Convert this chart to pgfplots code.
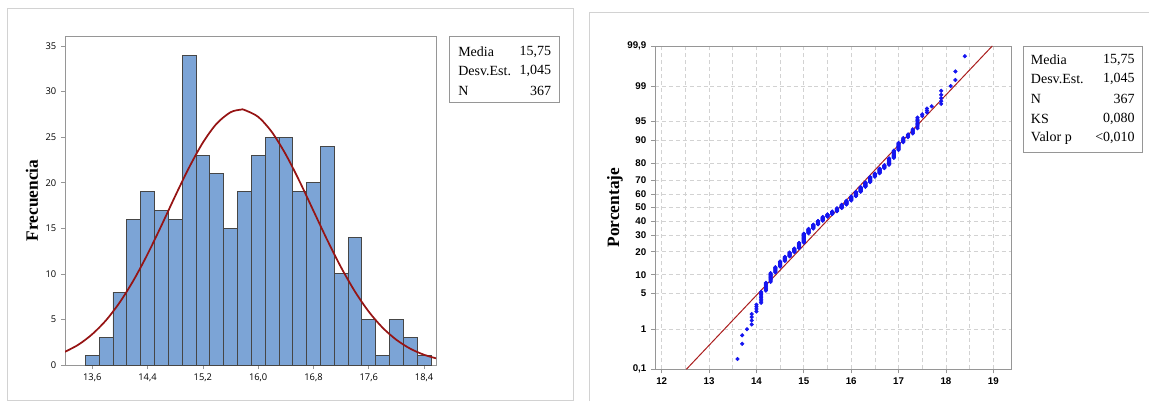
\documentclass[border=0pt]{standalone}
\usepackage{pgfplots}
\pgfplotsset{compat=1.18}
\usepackage{pgfplotstable}
\usepackage{fontspec}
\setmainfont{Liberation Serif}
\newfontfamily\ticksans{Open Sans}
\newfontfamily\tickbold{Liberation Sans}

\definecolor{barblue}{RGB}{124,164,214}
\definecolor{barline}{RGB}{70,70,70}
\definecolor{fitred}{RGB}{150,20,20}
\definecolor{linered}{RGB}{170,30,30}
\definecolor{framegray}{RGB}{210,210,210}
\definecolor{axisgray}{RGB}{150,150,150}
\definecolor{gridgray}{RGB}{210,210,210}
\definecolor{dotblue}{RGB}{20,20,240}

% histogram: bin midpoints (width 0.2) and frequencies
\pgfplotstableread{
mid count
13.6 1
13.8 3
14.0 8
14.2 16
14.4 19
14.6 17
14.8 16
15.0 34
15.2 23
15.4 21
15.6 15
15.8 19
16.0 23
16.2 25
16.4 25
16.6 19
16.8 20
17.0 24
17.2 10
17.4 14
17.6 5
17.8 1
18.0 5
18.2 3
18.4 1
}\histdata

% fitted normal curve (mean 15.75, sd 1.045, N 367, bin 0.2)
\pgfplotstableread{
x f
13.2 1.43
13.4 2.23
13.6 3.38
13.8 4.91
14.0 6.90
14.2 9.33
14.4 12.16
14.6 15.29
14.8 18.54
15.0 21.66
15.2 24.40
15.4 26.49
15.6 27.73
15.75 28.02
15.8 27.99
16.0 27.23
16.2 25.54
16.4 23.09
16.6 20.13
16.8 16.91
17.0 13.70
17.2 10.70
17.4 8.06
17.6 5.85
17.8 4.09
18.0 2.76
18.2 1.79
18.4 1.12
18.6 0.68
}\normfit

% sorted sample (n = 367)
\pgfplotstableread[row sep=\\]{
x\\
13.6\\
13.7\\ 13.7\\
13.8\\
13.9\\ 13.9\\ 13.9\\ 13.9\\
14.0\\ 14.0\\ 14.0\\ 14.0\\
14.1\\ 14.1\\ 14.1\\ 14.1\\ 14.1\\ 14.1\\ 14.1\\ 14.1\\
14.2\\ 14.2\\ 14.2\\ 14.2\\ 14.2\\ 14.2\\ 14.2\\ 14.2\\
14.3\\ 14.3\\ 14.3\\ 14.3\\ 14.3\\ 14.3\\ 14.3\\ 14.3\\ 14.3\\ 14.3\\ 14.3\\
14.4\\ 14.4\\ 14.4\\ 14.4\\ 14.4\\ 14.4\\ 14.4\\ 14.4\\
14.5\\ 14.5\\ 14.5\\ 14.5\\ 14.5\\ 14.5\\ 14.5\\ 14.5\\ 14.5\\
14.6\\ 14.6\\ 14.6\\ 14.6\\ 14.6\\ 14.6\\ 14.6\\ 14.6\\
14.7\\ 14.7\\ 14.7\\ 14.7\\ 14.7\\ 14.7\\ 14.7\\ 14.7\\
14.8\\ 14.8\\ 14.8\\ 14.8\\ 14.8\\ 14.8\\ 14.8\\ 14.8\\
14.9\\ 14.9\\ 14.9\\ 14.9\\ 14.9\\ 14.9\\ 14.9\\ 14.9\\ 14.9\\ 14.9\\ 14.9\\ 14.9\\
15.0\\ 15.0\\ 15.0\\ 15.0\\ 15.0\\ 15.0\\ 15.0\\ 15.0\\ 15.0\\ 15.0\\ 15.0\\
15.0\\ 15.0\\ 15.0\\ 15.0\\ 15.0\\ 15.0\\ 15.0\\ 15.0\\ 15.0\\ 15.0\\ 15.0\\
15.1\\ 15.1\\ 15.1\\ 15.1\\ 15.1\\ 15.1\\ 15.1\\ 15.1\\ 15.1\\ 15.1\\ 15.1\\ 15.1\\
15.2\\ 15.2\\ 15.2\\ 15.2\\ 15.2\\ 15.2\\ 15.2\\ 15.2\\ 15.2\\ 15.2\\ 15.2\\
15.3\\ 15.3\\ 15.3\\ 15.3\\ 15.3\\ 15.3\\ 15.3\\ 15.3\\ 15.3\\ 15.3\\
15.4\\ 15.4\\ 15.4\\ 15.4\\ 15.4\\ 15.4\\ 15.4\\ 15.4\\ 15.4\\ 15.4\\ 15.4\\
15.5\\ 15.5\\ 15.5\\ 15.5\\ 15.5\\ 15.5\\ 15.5\\
15.6\\ 15.6\\ 15.6\\ 15.6\\ 15.6\\ 15.6\\ 15.6\\ 15.6\\
15.7\\ 15.7\\ 15.7\\ 15.7\\ 15.7\\ 15.7\\ 15.7\\ 15.7\\ 15.7\\
15.8\\ 15.8\\ 15.8\\ 15.8\\ 15.8\\ 15.8\\ 15.8\\ 15.8\\ 15.8\\ 15.8\\
15.9\\ 15.9\\ 15.9\\ 15.9\\ 15.9\\ 15.9\\ 15.9\\ 15.9\\ 15.9\\ 15.9\\ 15.9\\
16.0\\ 16.0\\ 16.0\\ 16.0\\ 16.0\\ 16.0\\ 16.0\\ 16.0\\ 16.0\\ 16.0\\ 16.0\\ 16.0\\
16.1\\ 16.1\\ 16.1\\ 16.1\\ 16.1\\ 16.1\\ 16.1\\ 16.1\\ 16.1\\ 16.1\\ 16.1\\ 16.1\\
16.2\\ 16.2\\ 16.2\\ 16.2\\ 16.2\\ 16.2\\ 16.2\\ 16.2\\ 16.2\\ 16.2\\ 16.2\\ 16.2\\ 16.2\\
16.3\\ 16.3\\ 16.3\\ 16.3\\ 16.3\\ 16.3\\ 16.3\\ 16.3\\ 16.3\\ 16.3\\ 16.3\\ 16.3\\
16.4\\ 16.4\\ 16.4\\ 16.4\\ 16.4\\ 16.4\\ 16.4\\ 16.4\\ 16.4\\ 16.4\\ 16.4\\ 16.4\\ 16.4\\
16.5\\ 16.5\\ 16.5\\ 16.5\\ 16.5\\ 16.5\\ 16.5\\ 16.5\\
16.6\\ 16.6\\ 16.6\\ 16.6\\ 16.6\\ 16.6\\ 16.6\\ 16.6\\ 16.6\\ 16.6\\ 16.6\\
16.7\\ 16.7\\ 16.7\\ 16.7\\ 16.7\\ 16.7\\ 16.7\\
16.8\\ 16.8\\ 16.8\\ 16.8\\ 16.8\\ 16.8\\ 16.8\\ 16.8\\ 16.8\\ 16.8\\ 16.8\\ 16.8\\ 16.8\\
16.9\\ 16.9\\ 16.9\\ 16.9\\ 16.9\\ 16.9\\ 16.9\\ 16.9\\ 16.9\\ 16.9\\ 16.9\\ 16.9\\ 16.9\\
17.0\\ 17.0\\ 17.0\\ 17.0\\ 17.0\\ 17.0\\ 17.0\\ 17.0\\ 17.0\\ 17.0\\ 17.0\\
17.1\\ 17.1\\ 17.1\\ 17.1\\ 17.1\\ 17.1\\
17.2\\ 17.2\\ 17.2\\ 17.2\\
17.3\\ 17.3\\ 17.3\\ 17.3\\ 17.3\\
17.4\\ 17.4\\ 17.4\\ 17.4\\ 17.4\\ 17.4\\ 17.4\\ 17.4\\ 17.4\\
17.5\\ 17.5\\
17.6\\ 17.6\\ 17.6\\
17.7\\
17.9\\ 17.9\\ 17.9\\ 17.9\\ 17.9\\
18.1\\
18.2\\ 18.2\\
18.4\\
}\sample
% rank of each sorted observation
\pgfplotstablecreatecol[create col/expr={\pgfplotstablerow+1}]{rank}\sample

\begin{document}
\begin{tikzpicture}
\path[use as bounding box] (0pt,0pt) rectangle (861.75pt,300.75pt);

% panel frames
\draw[framegray, line width=0.75pt] (5.25pt,0.75pt) rectangle (429.75pt,294pt);
\draw[framegray, line width=0.75pt] (441.97pt,0pt) -- (441.97pt,291.4pt) -- (861.75pt,291.4pt);

% ---------- histogram ----------
\begin{axis}[
  at={(48.75pt,27pt)}, anchor=south west,
  scale only axis, width=278.25pt, height=246.75pt,
  xmin=13.206, xmax=18.572, ymin=0, ymax=36.1,
  axis line style={axisgray, line width=0.6pt},
  xtick={13.6,14.4,15.2,16.0,16.8,17.6,18.4},
  xticklabels={{13,6},{14,4},{15,2},{16,0},{16,8},{17,6},{18,4}},
  ytick={0,5,10,15,20,25,30,35},
  /pgf/number format/assume math mode=true,
  tick label style={font=\ticksans\fontsize{7}{8}\selectfont, text=black},
  xtick pos=bottom, ytick pos=left,
  tick align=outside, major tick length=3pt,
  tick style={axisgray, line width=0.5pt},
  ylabel={\bfseries Frecuencia},
  ylabel style={font=\fontsize{13}{15}\selectfont, at={(axis description cs:-0.089,0.5)}, anchor=center},
]
\addplot[ybar, bar width=0.2, fill=barblue, draw=barline, line width=0.6pt]
  table[x=mid, y=count] {\histdata};
\addplot[fitred, line width=1.3pt, smooth] table[x=x, y=f] {\normfit};
\end{axis}

% summary box, histogram
\draw[axisgray, line width=0.6pt] (337.3pt,224.0pt) rectangle (419.5pt,273.75pt);
\begin{scope}[every node/.style={inner sep=0pt, font=\fontsize{10.5}{12}\selectfont}]
\node[anchor=west] at (343.5pt,262.0pt) {Media};
\node[anchor=east] at (413.5pt,262.0pt) {15,75};
\node[anchor=west] at (343.5pt,247.5pt) {Desv.Est.};
\node[anchor=east] at (413.5pt,247.5pt) {1,045};
\node[anchor=west] at (343.5pt,232.5pt) {N};
\node[anchor=east] at (413.5pt,232.5pt) {367};
\end{scope}

% ---------- normal probability plot ----------
\begin{axis}[
  at={(491.25pt,23.775pt)}, anchor=south west,
  scale only axis, width=267.5pt, height=242.5pt,
  xmin=11.859, xmax=19.388, ymin=-3.0902, ymax=3.0902,
  declare function={
    nq(\p)=min(\p,1-\p);
    nt(\p)=sqrt(-2*ln(nq(\p)));
    nz(\p)=nt(\p)-(2.515517+0.802853*nt(\p)+0.010328*nt(\p)^2)/(1+1.432788*nt(\p)+0.189269*nt(\p)^2+0.001308*nt(\p)^3);
    probit(\p)=ifthenelse(\p<0.5,-nz(\p),nz(\p));
  },
  axis line style={axisgray, line width=0.6pt},
  xtick={12,13,14,15,16,17,18,19},
  minor xtick={12.5,13.5,14.5,15.5,16.5,17.5,18.5},
  ytick={-3.0902,-2.3263,-1.6449,-1.2816,-0.8416,-0.5244,-0.2533,0,0.2533,0.5244,0.8416,1.2816,1.6449,2.3263,3.0902},
  yticklabels={{0,1},1,5,10,20,30,40,50,60,70,80,90,95,99,{99,9}},
  /pgf/number format/assume math mode=true,
  tick label style={font=\tickbold\bfseries\fontsize{7.3}{8}\selectfont},
  xtick pos=bottom, ytick pos=left,
  tick align=outside, major tick length=3pt, minor tick length=0pt,
  tick style={axisgray, line width=0.5pt},
  grid=both,
  major grid style={gridgray, dash pattern=on 3pt off 2.2pt, line width=0.5pt},
  minor grid style={gridgray, dash pattern=on 3pt off 2.2pt, line width=0.5pt},
  ylabel={\bfseries Porcentaje},
  ylabel style={font=\fontsize{13}{15}\selectfont, at={(axis description cs:-0.112,0.5)}, anchor=center},
]
\addplot[linered, line width=0.75pt] coordinates {(12.521,-3.0902) (18.979,3.0902)};
\addplot[only marks, mark=*, mark size=1.35pt, color=dotblue]
  table[x=x, y expr={probit((\thisrow{rank}-0.3)/367.4)}] {\sample};
\end{axis}

% summary box, probability plot
\draw[axisgray, line width=0.6pt] (767.5pt,186.2pt) rectangle (857.0pt,266.25pt);
\begin{scope}[every node/.style={inner sep=0pt, font=\fontsize{10.5}{12}\selectfont}]
\node[anchor=west] at (773.0pt,255.75pt) {Media};
\node[anchor=east] at (851.25pt,255.75pt) {15,75};
\node[anchor=west] at (773.0pt,241.5pt) {Desv.Est.};
\node[anchor=east] at (851.25pt,241.5pt) {1,045};
\node[anchor=west] at (773.0pt,226.3pt) {N};
\node[anchor=east] at (851.25pt,226.3pt) {367};
\node[anchor=west] at (773.0pt,211.5pt) {KS};
\node[anchor=east] at (851.25pt,211.5pt) {0,080};
\node[anchor=west] at (773.0pt,197.5pt) {Valor p};
\node[anchor=east] at (851.25pt,197.5pt) {<0,010};
\end{scope}
\end{tikzpicture}
\end{document}
